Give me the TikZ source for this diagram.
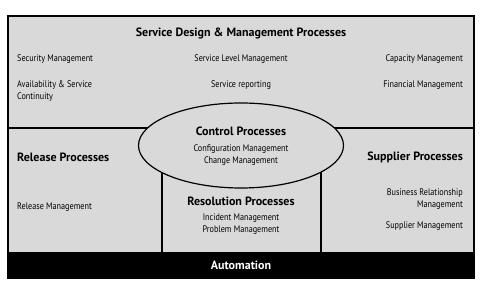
\documentclass[tikz,border=0pt]{standalone}
\usepackage{fontspec}
\setmainfont{PT Sans}[FakeStretch=0.86]
\newfontfamily\headfont{PT Sans}[FakeStretch=1.0]
\usetikzlibrary{shapes.geometric}
\definecolor{panel}{HTML}{D9D9D9}
\tikzset{
  item/.style={font=\fontsize{9.5}{12}\selectfont, inner sep=0pt, align=left},
  itemc/.style={item, align=center},
  itemr/.style={item, align=right},
  head/.style={font=\headfont\fontsize{12}{14}\selectfont\bfseries, inner sep=0pt},
  rule/.style={line width=1.2pt, black},
}
\begin{document}
\begin{tikzpicture}[x=1pt,y=-1pt]
\useasboundingbox (0,0) rectangle (482,288);
\fill[panel] (8,16) rectangle (474,252);
\coordinate (hl) at (8,128);
\coordinate (hr) at (474,128);
\coordinate (vl) at (162,150);
\coordinate (vr) at (321,150);
\coordinate (vlb) at (162,252);
\coordinate (vrb) at (321,252);
\draw[rule] (hl) -- (hr);
\draw[rule] (vl) -- (vlb);
\draw[rule] (vr) -- (vrb);
\node[ellipse, draw, rule, fill=panel, minimum width=205, minimum height=85, inner sep=0pt] (ctrl) at (241,145.5) {};
\node[fill=black, minimum width=466, minimum height=26, inner sep=0pt, anchor=north west] (auto) at (8,252) {};
\node[head, text=white] (autot) at (241,265) {Automation};
\draw[line width=1.5pt] (8,16) rectangle (474,278);

\node[head] (sd) at (241,33) {Service Design \& Management Processes};
\node[item, anchor=west] (sec) at (17,59) {Security Management};
\node[itemc] (slm) at (241,59) {Service Level Management};
\node[itemr, anchor=east] (cap) at (463,59) {Capacity Management};
\node[item, anchor=north west] (avail) at (17,81) {Availability \& Service\\Continuity};
\node[itemc] (srep) at (241,85) {Service reporting};
\node[itemr, anchor=east] (fin) at (463,85) {Financial Management};

\node[head] (cp) at (241,131) {Control Processes};
\node[itemc, anchor=north] (cm) at (241,144.5) {Configuration Management\\Change Management};

\node[head, anchor=west] (rp) at (17,157) {Release Processes};
\node[item, anchor=west] (rm) at (17,207) {Release Management};

\node[head] (resp) at (241,201) {Resolution Processes};
\node[itemc, anchor=north] (im) at (241,213.5) {Incident Management\\Problem Management};

\node[head, anchor=east] (sp) at (463,157) {Supplier Processes};
\node[itemr, anchor=north east] (brm) at (463,188.5) {Business Relationship\\Management};
\node[itemr, anchor=east] (sm) at (463,226) {Supplier Management};
\end{tikzpicture}
\end{document}
